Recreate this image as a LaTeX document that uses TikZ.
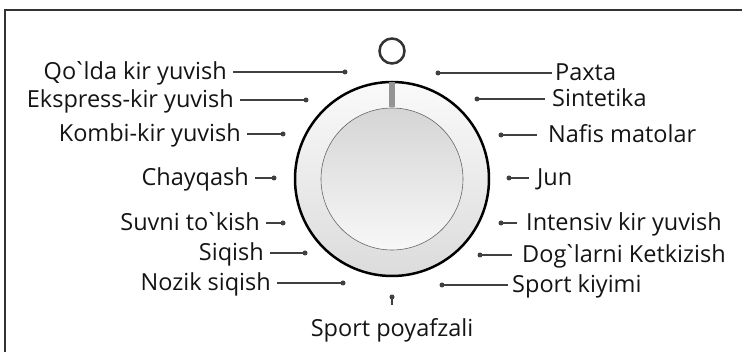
\documentclass[tikz,border=0pt]{standalone}
\usepackage{fontspec}
\newfontfamily\lblfont{Open Sans}[Ligatures=TeXOff]
\newcommand\grv{\kern-0.14em`\kern-0.12em}
\begin{document}
\begin{tikzpicture}[x=1pt,y=-1pt,
  lbl/.style={font=\lblfont\fontsize{23.5}{28}\selectfont, text=black!92, inner sep=0pt},
  lead/.style={draw=black!75, line width=1.2pt},
  dot/.style={circle, fill=black!75, inner sep=0pt, minimum size=5pt},
  frame/.style={draw=black!80, line width=1.6pt}]
\useasboundingbox (0,0) rectangle (742,352);
\fill[white] (0,0) rectangle (742,352);
% frame
\coordinate (f1) at (5,360);
\coordinate (f2) at (5,10);
\coordinate (f3) at (760,10);
\draw[frame] (f1) -- (f2) -- (f3);
% dial
\path[top color=gray!4, bottom color=gray!28, draw=black, line width=2.5pt] (392,179) circle (97pt);
\path[top color=gray!33, bottom color=gray!6, draw=black!60, line width=0.6pt] (392,179) circle (71pt);
\fill[black!42] (389,82) rectangle (395,107.5);
\node[circle, draw=black!80, line width=2.5pt, minimum size=25pt, inner sep=0pt] (ring) at (392,51) {};
% left labels
\foreach \n/\xs/\xd/\yy/\t in {q/233/345/72/Qo\grv lda kir yuvish,
  e/240/306/100/Ekspress-kir yuvish,
  kb/247/283/134/Kombi-kir yuvish,
  ch/255/274/178/Chayqash,
  sv/266/283/223/Suvni to\grv kish,
  sq/270/305/253/Siqish,
  nz/277/343/283/Nozik siqish}{
  \node[dot] (\n d) at (\xd,\yy) {};
  \coordinate (\n a) at (\xs,\yy);
  \node[lbl, anchor=base east] (\n t) at (\xs-6,\yy+8) {\t};
  \draw[lead] (\n a) -- (\n d.center);
}
% right labels
\foreach \n/\xd/\xe/\xt/\yy/\t in {px/438/552/555/73/Paxta,
  si/477/545/552/99/Sintetika,
  nf/501/537/548/135/Nafis matolar,
  ju/509/529/537/178/Jun,
  in/501/517/526/223/Intensiv kir yuvish,
  dg/480/512/522/255/Dog\grv larni Ketkizish,
  sk/442/508/512/285/Sport kiyimi}{
  \node[dot] (\n d) at (\xd,\yy) {};
  \coordinate (\n a) at (\xe,\yy);
  \node[lbl, anchor=base west] (\n t) at (\xt,\yy+8) {\t};
  \draw[lead] (\n d.center) -- (\n a);
}
% bottom
\node[dot] (spd) at (392,297) {};
\coordinate (spa) at (392,305);
\draw[lead] (spd.center) -- (spa);
\node[lbl, anchor=base] (spt) at (392,337) {Sport poyafzali};
\end{tikzpicture}
\end{document}
